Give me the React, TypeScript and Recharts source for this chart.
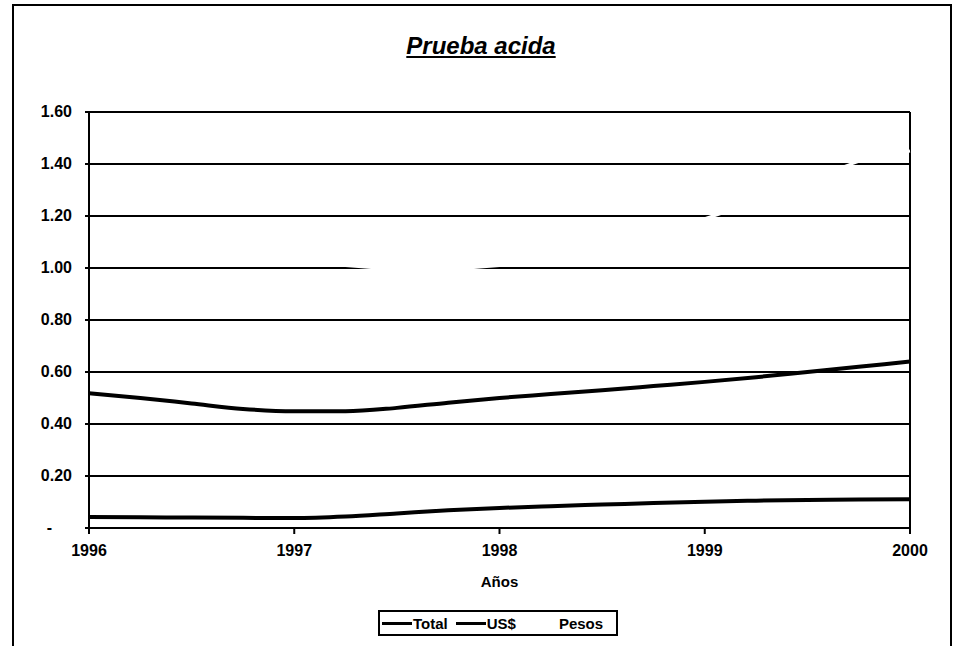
import React from 'react';
import {
  LineChart,
  Line,
  XAxis,
  YAxis,
  CartesianGrid,
  Legend,
  ReferenceLine
} from 'recharts';

// quarterly points
const years = [1996, 1996.25, 1996.5, 1996.75, 1997, 1997.25, 1997.5, 1997.75, 1998, 1998.25, 1998.5, 1998.75, 1999, 1999.25, 1999.5, 1999.75, 2000];
const totalValues = [0.518, 0.5, 0.479, 0.458, 0.449, 0.449, 0.462, 0.482, 0.5, 0.515, 0.53, 0.546, 0.562, 0.58, 0.6, 0.62, 0.64];
const usdValues = [0.042, 0.041, 0.04, 0.039, 0.038, 0.044, 0.056, 0.068, 0.077, 0.084, 0.09, 0.096, 0.101, 0.105, 0.108, 0.11, 0.111];
// pesos line was a pale colour, it only shows as gaps in the gridlines
const pesosValues = [1.15, 1.1, 1.12, 1.1, 1.06, 1.01, 1.0, 1.0, 1.01, 1.06, 1.11, 1.15, 1.19, 1.26, 1.33, 1.41, 1.45];

const xTicks = [1996, 1997, 1998, 1999, 2000];
const yTicks = [0, 0.2, 0.4, 0.6, 0.8, 1.0, 1.2, 1.4, 1.6];

const seriesNames = ['Total', 'US$', 'Pesos'];

const chartData = years.map((year, i) => ({
  year,
  Total: totalValues[i],
  'US$': usdValues[i],
  Pesos: pesosValues[i],
}));

const font = '"Liberation Sans", Arial, sans-serif';

const YTick = ({ x, y, payload }: any) => {
  const v = payload.value;
  return (
    <text x={v === 0 ? x - 20 : x} y={y} dy={5} textAnchor="end" fontFamily={font} fontWeight="bold" fontSize={16} fill="#000">
      {v === 0 ? '-' : v.toFixed(2)}
    </text>
  );
};

const renderLegend = () => (
  <div
    style={{
      border: '2px solid #000',
      width: 234,
      height: 22,
      display: 'flex',
      alignItems: 'center',
      fontFamily: font,
      fontWeight: 'bold',
      fontSize: 15,
      paddingLeft: 2,
      boxSizing: 'content-box',
    }}
  >
    {seriesNames.map((name) => (
      <span key={name} style={{ display: 'flex', alignItems: 'center', marginRight: 8 }}>
        <span
          style={{
            display: 'inline-block',
            width: name === 'Pesos' ? 34 : 30,
            height: 3,
            background: name === 'Pesos' ? '#fff' : '#000',
            marginRight: 1,
          }}
        />
        {name}
      </span>
    ))}
  </div>
);

const App: React.FC = () => {
  return (
    <div style={{ position: 'absolute', left: 0, top: 0, width: 954, height: 646, background: '#fff', overflow: 'hidden' }}>
      <div
        style={{
          position: 'absolute',
          left: 12,
          top: 4,
          width: 936,
          height: 660,
          border: '2px solid #000',
        }}
      />
      <div
        style={{
          position: 'absolute',
          left: 0,
          width: 954,
          top: 32,
          textAlign: 'center',
          fontFamily: font,
          fontWeight: 'bold',
          fontStyle: 'italic',
          fontSize: 24,
          textDecoration: 'underline',
          paddingLeft: 4,
        }}
      >
        Prueba acida
      </div>
      <LineChart
        width={954}
        height={646}
        data={chartData}
        margin={{ top: 112, right: 44, left: 29, bottom: 62 }}
        style={{ position: 'absolute', left: 0, top: 0 }}
      >
        <CartesianGrid vertical={false} stroke="#000" strokeWidth={2} />
        <XAxis
          dataKey="year"
          type="number"
          domain={[1996, 2000]}
          ticks={xTicks}
          height={30}
          stroke="#000"
          strokeWidth={2}
          tickSize={6}
          tickMargin={11}
          tick={{ fill: '#000', fontFamily: font, fontWeight: 'bold', fontSize: 16 }}
          label={{ value: 'Años', position: 'bottom', offset: 18, fill: '#000', fontFamily: font, fontWeight: 'bold', fontSize: 15 }}
        />
        <YAxis
          type="number"
          domain={[0, 1.6]}
          ticks={yTicks}
          width={60}
          stroke="#000"
          strokeWidth={2}
          tickSize={4}
          tickMargin={13}
          tick={<YTick />}
        />
        <ReferenceLine x={2000} stroke="#000" strokeWidth={2} />
        <Line type="monotone" dataKey="Pesos" stroke="#ffffff" strokeWidth={3} dot={false} isAnimationActive={false} />
        <Line type="monotone" dataKey="Total" stroke="#000" strokeWidth={4} dot={false} isAnimationActive={false} />
        <Line type="monotone" dataKey="US$" stroke="#000" strokeWidth={4} dot={false} isAnimationActive={false} />
        <Legend
          content={renderLegend}
          wrapperStyle={{ position: 'absolute', left: 378, top: 610, width: 'auto', height: 'auto' }}
        />
      </LineChart>
    </div>
  );
};

export default App;
